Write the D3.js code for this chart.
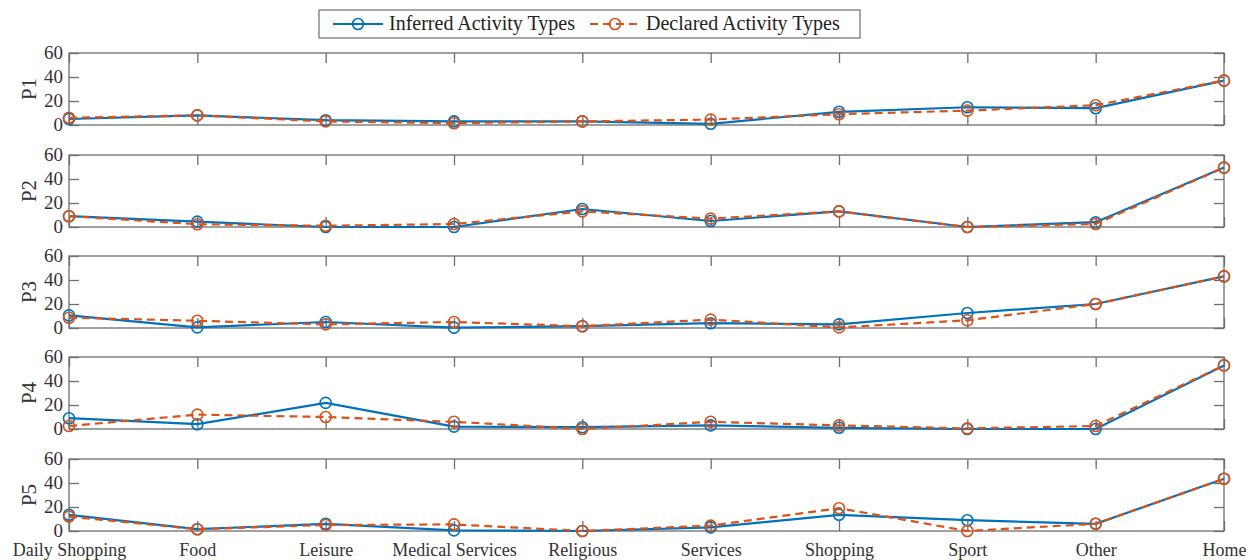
<!DOCTYPE html>
<html><head><meta charset="utf-8">
<script src="https://cdn.jsdelivr.net/npm/d3@7"></script>
<style>body{margin:0;background:#fff}svg{display:block}</style>
</head><body>
<svg id="c" width="1255" height="560"></svg>
<script>
const categories = ["Daily Shopping","Food","Leisure","Medical Services","Religious","Services","Shopping","Sport","Other","Home"];
const panels = ["P1","P2","P3","P4","P5"];
const yTicks = [0,20,40,60];
const seriesNames = ["Inferred Activity Types","Declared Activity Types"];
const inferredP1 = [5,8,4,3,3,1,11,14.8,14,37];
const declaredP1 = [6,8,3,1.5,3,4.5,9,12,16.5,37];
const inferredP2 = [9,4.5,0,0,15,5,13,0,4,49.5];
const declaredP2 = [9,2.3,1,2.5,13,7,13,0,2.5,49.5];
const inferredP3 = [10.5,0.5,5,0.3,1.5,4,3,12.5,20,43];
const declaredP3 = [8.6,6,3,5,1.5,7,0.5,6.4,20,43];
const inferredP4 = [9,4,21.8,2,1.5,3,1,0,0,53];
const declaredP4 = [2.5,12,10,6,0,6,3,0.5,2.5,53];
const inferredP5 = [13.5,1.5,6,0.5,0,3,13.5,9,6,43.5];
const declaredP5 = [12,1.5,5,5.5,0,4.5,19,0,6,43.5];
const inferred = [inferredP1,inferredP2,inferredP3,inferredP4,inferredP5];
const declared = [declaredP1,declaredP2,declaredP3,declaredP4,declaredP5];

const svg = d3.select("#c");
const font = "'Liberation Serif','Times New Roman',serif";
const axisCol = "#6e6e6e";
const blue = "#0072BD", orange = "#D95319";
const left = 69, right = 1224, ph = 72;
const tops = [53,155,256,357,459];
const x = d3.scalePoint().domain(categories).range([left,right]);
const tickLen = 10;

panels.forEach((p,i)=>{
  const top = tops[i], bot = top+ph;
  const y = d3.scaleLinear().domain([0,60]).range([bot,top]);
  const g = svg.append("g");
  g.append("rect").attr("x",left).attr("y",top).attr("width",right-left).attr("height",ph)
   .attr("fill","none").attr("stroke",axisCol).attr("stroke-width",1.3);
  const ya = g.append("g").attr("transform",`translate(${left},0)`)
    .call(d3.axisLeft(y).tickValues(yTicks).tickSize(-tickLen).tickPadding(6));
  ya.select(".domain").remove();
  ya.selectAll("line").attr("stroke",axisCol).attr("stroke-width",1.3);
  ya.selectAll("text").attr("font-family",font).attr("font-size",19).attr("dy","0.28em").attr("fill","#333");
  const yr = g.append("g").attr("transform",`translate(${right},0)`)
    .call(d3.axisRight(y).tickValues(yTicks).tickSize(-tickLen).tickFormat(""));
  yr.select(".domain").remove();
  yr.selectAll("line").attr("stroke",axisCol).attr("stroke-width",1.3);
  const xt = g.append("g").attr("transform",`translate(0,${top})`)
    .call(d3.axisTop(x).tickSize(-tickLen).tickFormat(""));
  xt.select(".domain").remove();
  xt.selectAll("line").attr("stroke",axisCol).attr("stroke-width",1.3);
  const xb = g.append("g").attr("transform",`translate(0,${bot})`)
    .call(d3.axisBottom(x).tickSize(-tickLen).tickPadding(12).tickFormat(i===4? (d=>d):""));
  xb.select(".domain").remove();
  xb.selectAll("line").attr("stroke",axisCol).attr("stroke-width",1.3);
  xb.selectAll("text").attr("font-family",font).attr("font-size",18).attr("fill","#333");
  g.append("text").attr("transform",`translate(29,${(top+bot)/2}) rotate(-90)`)
   .attr("text-anchor","middle").attr("dy","0.35em").attr("font-family",font).attr("font-size",21).attr("fill","#333").text(p);
  const line = d3.line().x((d,j)=>x(categories[j])).y(d=>y(d));
  [[inferred[i],blue,null],[declared[i],orange,"8,5"]].forEach(([vals,col,dash])=>{
    g.append("path").datum(vals).attr("d",line).attr("fill","none").attr("stroke",col)
      .attr("stroke-width",2.2).attr("stroke-dasharray",dash);
    g.selectAll(null).data(vals).enter().append("circle")
      .attr("cx",(d,j)=>x(categories[j])).attr("cy",d=>y(d)).attr("r",5.5)
      .attr("fill","none").attr("stroke",col).attr("stroke-width",1.6);
  });
});

const lg = svg.append("g");
lg.append("rect").attr("x",319).attr("y",10).attr("width",541).attr("height",28)
  .attr("fill","#fff").attr("stroke",axisCol).attr("stroke-width",1.2);
const items = [[seriesNames[0],blue,null,333],[seriesNames[1],orange,"8,5",590]];
items.forEach(([t,col,dash,x0])=>{
  lg.append("line").attr("x1",x0).attr("x2",x0+50).attr("y1",24).attr("y2",24)
    .attr("stroke",col).attr("stroke-width",2.2).attr("stroke-dasharray",dash);
  lg.append("circle").attr("cx",x0+25).attr("cy",24).attr("r",5.5).attr("fill","none")
    .attr("stroke",col).attr("stroke-width",1.6);
  lg.append("text").attr("x",x0+56).attr("y",30).attr("font-family",font).attr("font-size",20)
    .attr("fill","#222").text(t);
});
</script>
</body></html>
